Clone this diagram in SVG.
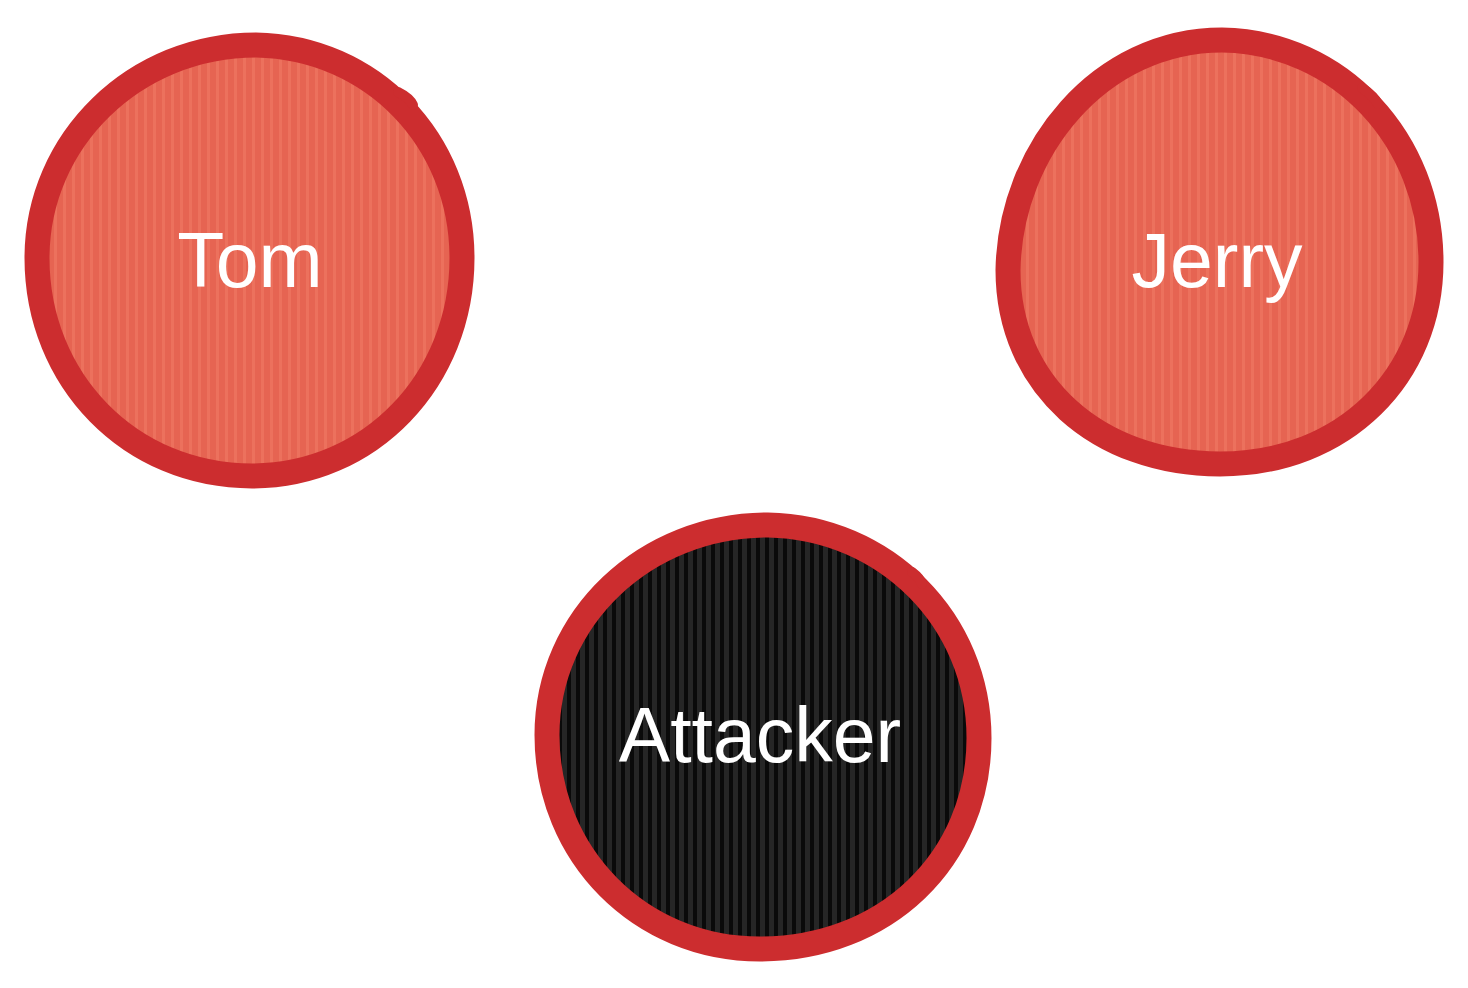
<svg xmlns="http://www.w3.org/2000/svg" width="1468" height="988" viewBox="0 0 1468 988">
  <defs>
    <pattern id="redStripes" x="0" y="0" width="9" height="9" patternUnits="userSpaceOnUse">
      <rect width="9" height="9" fill="#e66452"/>
      <rect x="0" width="3" height="9" fill="#ec715d"/>
    </pattern>
    <pattern id="darkStripes" x="0" y="0" width="9" height="9" patternUnits="userSpaceOnUse">
      <rect width="9" height="9" fill="#262626"/>
      <rect x="0" width="4" height="9" fill="#0a0a0a"/>
    </pattern>
  </defs>
  <style>
    .ring { stroke: #cc2d2f; stroke-width: 25; stroke-linejoin: round; stroke-linecap: round; }
    .tick { fill: none; stroke: #cc2d2f; stroke-width: 10; stroke-linecap: round; }
    .label { font-family: "Liberation Sans", Arial, Helvetica, sans-serif; font-size: 77px; fill: #ffffff; text-anchor: middle; }
  </style>
  <g id="connectors"></g>
  <g id="node-tom">
    <path class="ring" fill="url(#redStripes)" d="M 37,258 C 37,140 135,45 256,45 C 372,47 462,140 462,258 C 462,380 370,476 252,476 C 130,476 37,380 37,258 Z"/>
    <path class="tick" d="M 398,92 Q 410,98 413,105"/>
    <text class="label" x="250" y="287">Tom</text>
  </g>
  <g id="node-jerry">
    <path class="ring" fill="url(#redStripes)" d="M 1008,270 C 1010,150 1100,40 1222,40 C 1340,42 1431,140 1431,262 C 1431,375 1345,464 1220,464 C 1098,464 1008,385 1008,270 Z"/>
    <path class="tick" d="M 1362,88 Q 1374,96 1378,104"/>
    <text class="label" x="1217" y="287">Jerry</text>
  </g>
  <g id="node-attacker">
    <path class="ring" fill="url(#darkStripes)" d="M 547,735 C 547,618 645,525 768,525 C 885,527 979,620 979,738 C 979,860 885,949 760,949 C 640,949 547,855 547,735 Z"/>
    <path class="tick" d="M 912,572 Q 920,578 922,584"/>
    <text class="label" x="760" y="762">Attacker</text>
  </g>
</svg>
